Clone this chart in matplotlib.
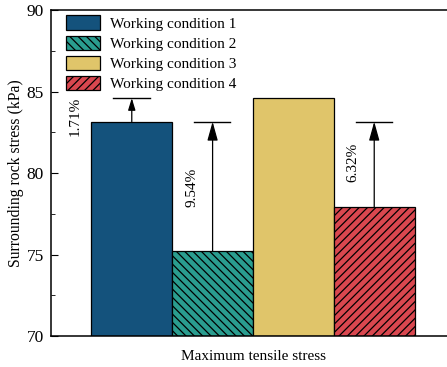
import matplotlib
matplotlib.use("Agg")
import matplotlib.pyplot as plt

labels = ["Working condition 1", "Working condition 2", "Working condition 3", "Working condition 4"]
values = [83.15, 75.22, 84.60, 77.90]
colors = ["#14527c", "#2a9d8f", "#e0c56a", "#d9474f"]
hatches = ["", "\\\\\\\\", "", "////"]
# annotations: (from bar index, to level bar index, text)
annots = [(0, 2, "1.71%"), (1, 0, "9.54%"), (3, 0, "6.32%")]
x_label = "Maximum tensile stress"
y_label = "Surrounding rock stress (kPa)"

plt.rcParams['font.family'] = ['Liberation Serif', 'DejaVu Serif']
plt.rcParams['hatch.linewidth'] = 0.9

fig = plt.figure(figsize=(4.47, 3.67), dpi=100)
ax = fig.add_axes([0.114, 0.0845, 0.904, 0.888])

xs = list(range(len(values)))
for i, (v, c, h, lab) in enumerate(zip(values, colors, hatches, labels)):
    ax.bar(xs[i], v - 70, bottom=70, width=1.0, color=c, edgecolor="black",
           linewidth=0.9, hatch=h, label=lab)

text_pos = {0: (-0.70, 83.45), 1: (-0.25, 79.11), 3: (-0.27, 80.67)}
head = {0: "-|>,head_length=0.72,head_width=0.22",
        1: "-|>,head_length=1.15,head_width=0.32",
        3: "-|>,head_length=1.15,head_width=0.32"}
for i, j, t in annots:
    y0 = values[i]
    y1 = values[j]
    xc = xs[i]
    ax.plot([xc - 0.23, xc + 0.22], [y1, y1], color="black", lw=1.0)
    ax.annotate("", xy=(xc, y1), xytext=(xc, y0),
                arrowprops=dict(arrowstyle=head[i],
                                color="black", lw=0.9, shrinkA=0, shrinkB=0))
    dx, ym = text_pos[i]
    ax.text(xc + dx, ym, t, rotation=90, ha="center", va="center", fontsize=11)

ax.set_xlim(-1.0, 4.0)
ax.set_ylim(70, 90)
ax.set_yticks([70, 75, 80, 85, 90])
ax.set_yticks([72.5, 77.5, 82.5, 87.5], minor=True)
ax.set_xticks([])
ax.tick_params(axis="y", which="major", direction="in", length=5, labelsize=12.5, pad=5)
ax.tick_params(axis="y", which="minor", direction="in", length=3)
for s in ax.spines.values():
    s.set_linewidth(1.1)
ax.set_xlabel(x_label, fontsize=11, labelpad=10)
ax.set_ylabel(y_label, fontsize=11.3, labelpad=2)

leg = ax.legend(loc="upper left", bbox_to_anchor=(0.015, 1.012), frameon=False, fontsize=11,
                handlelength=2.2, handleheight=1.05, labelspacing=0.32, handletextpad=0.65,
                borderaxespad=0.2)

fig.savefig("out.png", dpi=100)
